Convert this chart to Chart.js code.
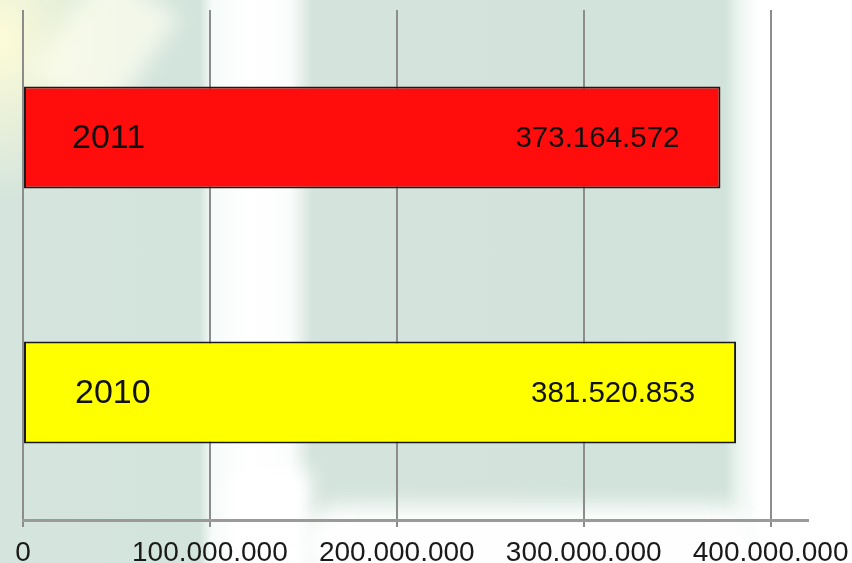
<!DOCTYPE html>
<html>
<head>
<meta charset="utf-8">
<script src="https://cdn.jsdelivr.net/npm/chart.js@4.4.1/dist/chart.umd.min.js"></script>
<style>
  html, body { margin: 0; padding: 0; }
  #wrap {
    position: relative;
    width: 852px;
    height: 563px;
    overflow: hidden;
    background:
      radial-gradient(ellipse 120px 160px at 0px 40px, rgba(255,253,215,0.95), rgba(255,253,215,0) 100%),
      linear-gradient(to right, #d5e5dd 0, #d3e4dc 200px, #f6fbf9 212px, #ffffff 250px, #fbfdfc 290px, #d4e4dc 312px, #d2e3db 725px, #eef6f2 740px, #ffffff 760px, #ffffff 100%);
  }
  .blob { position: absolute; filter: blur(10px); }
  #myChart { position: absolute; left: 0; top: 0; }
</style>
</head>
<body>
<div id="wrap">
  <div class="blob" style="left:60px;top:-20px;width:90px;height:130px;background:rgba(255,255,240,0.7);transform:rotate(35deg);"></div>
  <div class="blob" style="left:230px;top:470px;width:80px;height:110px;background:#ffffff;"></div>
  <div class="blob" style="left:300px;top:505px;width:460px;height:80px;background:#fdfefd;border-radius:40px;"></div>
  <canvas id="myChart" width="852" height="563"></canvas>
</div>
<script>
// Datos de la grafica
const years = ['2011', '2010'];
const totals = [373164572, 381520853];
const barColors = ['#ff0c0c', '#ffff00'];
const tickValues = [0, 100000000, 200000000, 300000000, 400000000];

// Formato con puntos como separador de miles
function formatNum(v) {
    return v.toString().replace(/\B(?=(\d{3})+(?!\d))/g, '.');
}

// Plugin para escribir el año y el valor dentro de cada barra
const barLabels = {
    id: 'barLabels',
    afterDatasetsDraw(chart) {
        const ctx = chart.ctx;
        const meta = chart.getDatasetMeta(0);
        ctx.save();
        ctx.fillStyle = '#111';
        ctx.textBaseline = 'middle';
        meta.data.forEach((bar, i) => {
            ctx.font = '34px "Liberation Sans", Arial, sans-serif';
            ctx.textAlign = 'left';
            ctx.fillText(years[i], bar.base + 48 + i * 3, bar.y + 1);
            ctx.font = '29.5px "Liberation Sans", Arial, sans-serif';
            ctx.textAlign = 'right';
            ctx.fillText(formatNum(totals[i]), bar.x - 41, bar.y + 1);
        });
        ctx.restore();
    }
};

const ctx = document.getElementById('myChart').getContext('2d');

const myChart = new Chart(ctx, {
    type: 'bar',
    data: {
        labels: years,
        datasets: [{
            data: totals,
            backgroundColor: barColors,
            borderColor: '#1a1a1a',
            borderWidth: 2,
            borderSkipped: false,
            barPercentage: 0.4,
            categoryPercentage: 1.0
        }]
    },
    options: {
        indexAxis: 'y',
        responsive: false,
        animation: false,
        layout: {
            autoPadding: false,
            padding: { left: 23, top: 10, right: 44, bottom: 0 }
        },
        plugins: {
            legend: { display: false },
            tooltip: { enabled: false }
        },
        scales: {
            x: {
                min: 0,
                max: 420000000,
                afterBuildTicks: (axis) => {
                    axis.ticks = tickValues.map(v => ({ value: v }));
                },
                afterFit: (axis) => {
                    axis.height = 43;
                    axis.paddingLeft = 0;
                    axis.paddingRight = 0;
                },
                grid: {
                    color: '#8c8c8c',
                    lineWidth: 2,
                    tickLength: 7
                },
                border: {
                    color: '#9a9a9a',
                    width: 3
                },
                ticks: {
                    color: '#1a1a1a',
                    padding: 12,
                    maxRotation: 0,
                    font: { family: '"Liberation Sans", Arial, sans-serif', size: 28, lineHeight: 1 },
                    callback: (v) => formatNum(v)
                }
            },
            y: {
                display: false
            }
        }
    },
    plugins: [barLabels]
});
</script>
</body>
</html>
